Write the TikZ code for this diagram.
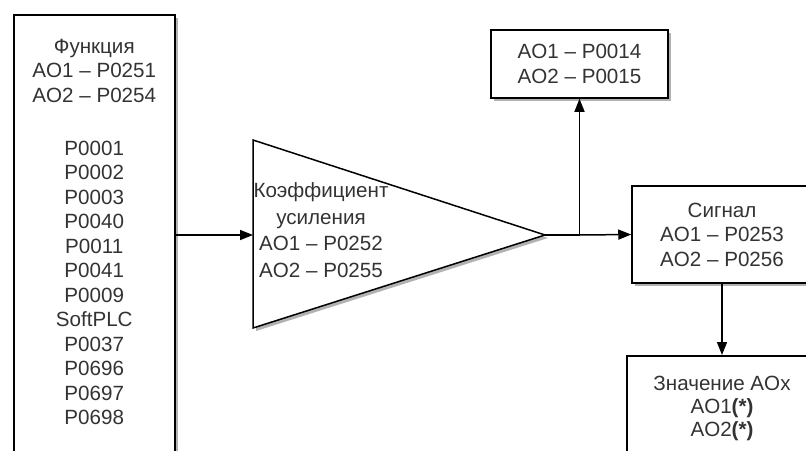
\documentclass[tikz,border=0pt]{standalone}
\usepackage{fontspec}
\setmainfont{Liberation Sans}
\usetikzlibrary{arrows.meta,shadows}

\begin{document}
\begin{tikzpicture}[x=1pt, y=-1pt, line width=1.5pt,
  font=\fontsize{20.6}{24.5}\selectfont, text=black!80,
  box/.style = {draw, fill=white, align=center, inner sep=0pt,
    drop shadow={shadow xshift=3pt, shadow yshift=-3pt, fill=black!60}},
  txt/.style = {align=center, inner sep=0pt},
  arr/.style = {-{Triangle[length=13pt, width=10pt]}}]
\useasboundingbox (0,0) rectangle (806,450);
\clip (0,0) rectangle (806,450);

\node[box, anchor=north west, minimum width=161pt, minimum height=480pt] (func) at (13,14) {};
\node[txt, anchor=north] (funclist) at ([yshift=-24pt]func.north) {Функция\\AO1 – P0251\\AO2 – P0254\\[28.5pt]P0001\\P0002\\P0003\\P0040\\P0011\\P0041\\P0009\\SoftPLC\\P0037\\P0696\\P0697\\P0698};

\coordinate (gin) at (253,235);
\coordinate (gout) at (545,235);
\draw[fill=white, drop shadow={shadow xshift=3pt, shadow yshift=-3pt, fill=black!60}] (253,140) -- (gout) -- (253,328) -- cycle;
\node[txt] (gain) at (321,230) {Коэффициент\\[2pt]усиления\\[2pt]AO1 – P0252\\[2pt]AO2 – P0255};

\node[box, minimum width=177pt, minimum height=68pt] (limit) at (579.5,64) {AO1 – P0014\\AO2 – P0015};
\node[box, minimum width=180pt, minimum height=97pt] (signal) at (722,234.5) {Сигнал\\AO1 – P0253\\AO2 – P0256};
\node[box, anchor=north, minimum width=190pt, minimum height=120pt] (value) at (722,355) {};
\node[txt, anchor=north] (valuetxt) at ([yshift=-20pt]value.north) {Значение AOx\\[-1.5pt]AO1\textbf{(*)}\\[-1.5pt]AO2\textbf{(*)}};

\coordinate (split) at (579.5,235);
\draw[arr] (func.east |- gin) -- (gin);
\draw (gout) -- (split);
\draw[arr] (split) -- (limit.south);
\draw[arr] (split) -- (signal.west);
\draw[arr] (signal.south) -- (value.north);
\end{tikzpicture}
\end{document}
